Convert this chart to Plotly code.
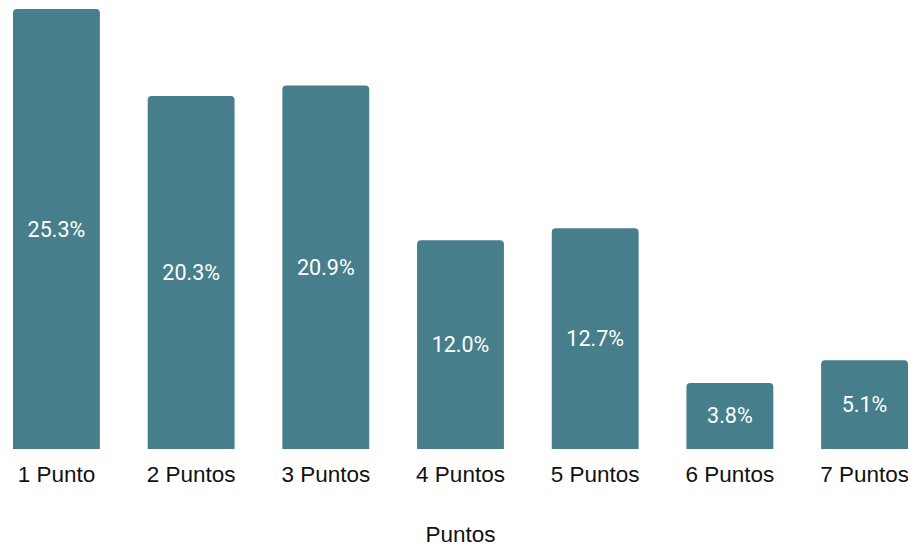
import plotly.graph_objects as go

categories = ["1 Punto", "2 Puntos", "3 Puntos", "4 Puntos", "5 Puntos", "6 Puntos", "7 Puntos"]
values = [25.3, 20.3, 20.9, 12.0, 12.7, 3.8, 5.1]
labels = [f"{v:.1f}%" for v in values]

fig = go.Figure(go.Bar(
    x=categories, y=values, text=labels,
    textposition="inside", insidetextanchor="middle",
    textfont=dict(family="Roboto", size=21.5, color="#ffffff"),
    marker=dict(color="#467f8b", line=dict(width=0)),
    width=0.645,
))
fig.update_layout(
    width=916, height=550,
    margin=dict(l=5, r=16, t=1, b=109),
    plot_bgcolor="white", paper_bgcolor="white",
    barcornerradius=4,
    showlegend=False,
    xaxis=dict(range=[-0.3225, 6.3225], showgrid=False, showline=False, zeroline=False,
               ticks="", ticklabelstandoff=9,
               tickfont=dict(family="Liberation Sans, Arial", size=22.5, color="#111111"),
               title=dict(text="Puntos", font=dict(family="Liberation Sans, Arial", size=22.5, color="#111111"), standoff=40)),
    yaxis=dict(range=[0, 25.3], visible=False),
)
fig.write_html("out.html")
